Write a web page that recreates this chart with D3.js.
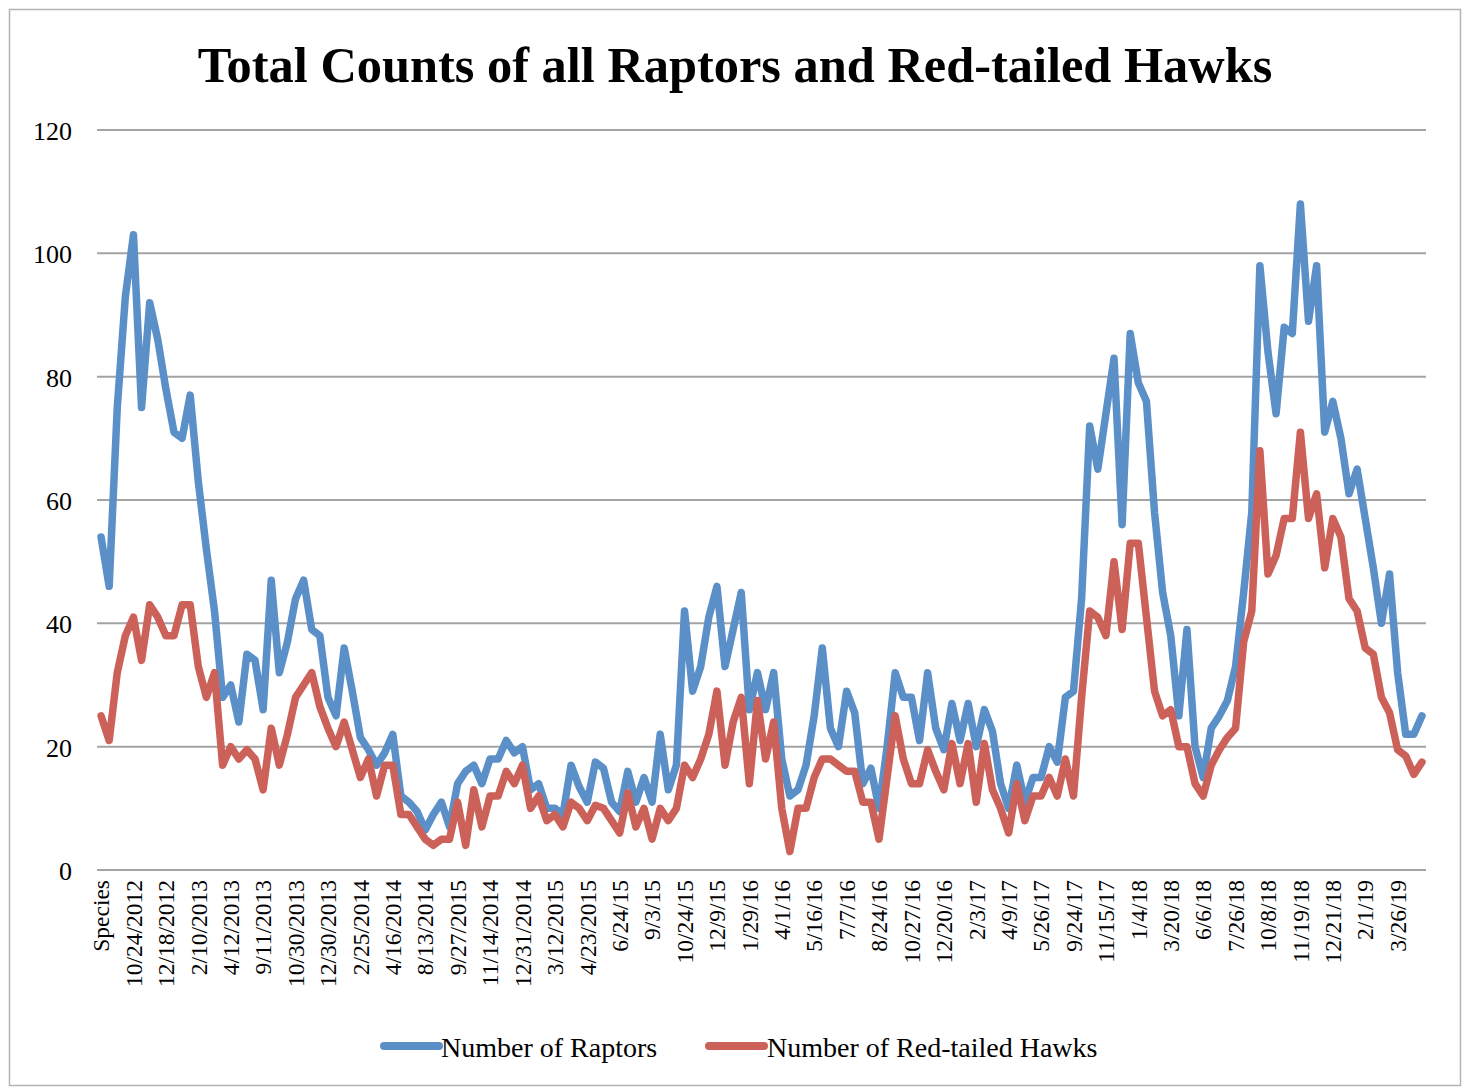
<!DOCTYPE html>
<html>
<head>
<meta charset="utf-8">
<script src="https://cdn.jsdelivr.net/npm/d3@7"></script>
<style>
  html, body { margin: 0; padding: 0; background: #fff; }
  svg { display: block; }
</style>
</head>
<body>
<svg id="chart" width="1467" height="1089"></svg>
<script>
// Survey counts, one entry per count date (164 dates).
const raptors = [
  54, 46, 75, 93, 103, 75, 92, 86, 78, 71, 70, 77, 63, 52, 42, 28, 30, 24, 35, 34,
  26, 47, 32, 37, 44, 47, 39, 38, 28, 25, 36, 29, 21.5, 19.5, 17, 19, 22, 12, 11, 9.5,
  6.5, 9, 11, 7, 14, 16, 17, 14, 18, 18, 21, 19, 20, 13, 14, 10, 10, 9, 17, 13.5,
  11, 17.5, 16.5, 11, 9.5, 16, 11, 15, 11, 22, 13, 17, 42, 29, 33, 41, 46, 33, 39, 45,
  26, 32, 26, 32, 18, 12, 13, 17, 25, 36, 23, 20, 29, 25.5, 14, 16.5, 10, 20, 32, 28,
  28, 21, 32, 23, 19.5, 27, 21, 27, 20, 26, 22.5, 14, 10, 17, 11, 15, 15, 20, 17.5, 28,
  29, 44, 72, 65, 74, 83, 56, 87, 79, 76, 58, 45, 38, 25, 39, 20, 15, 23, 25, 27.5,
  33, 45, 58, 98, 84, 74, 88, 87, 108, 89, 98, 71, 76, 70, 61, 65, 57, 49, 40, 48,
  32, 22, 22, 25
];

const redTailedHawks = [
  25, 21, 32, 38, 41, 34, 43, 41, 38, 38, 43, 43, 33, 28, 32, 17, 20, 18, 19.5, 18,
  13, 23, 17, 22, 28, 30, 32, 26.5, 23, 20, 24, 19.5, 15, 18, 12, 17, 17, 9, 9, 7,
  5, 4, 5, 5, 11, 4, 13, 7, 12, 12, 16, 14, 17, 10, 12, 8, 9, 7, 11, 10,
  8, 10.5, 10, 8, 6, 12.5, 7, 10, 5, 10, 8, 10, 17, 15, 18, 22, 29, 17, 24, 28,
  14, 27.5, 18, 24, 10, 3, 10, 10, 15, 18, 18, 17, 16, 16, 11, 11, 5, 15, 25, 18,
  14, 14, 19.5, 16, 13, 20.5, 14, 20.5, 11, 20.5, 13, 10, 6, 14, 8, 12, 12, 15, 12, 18,
  12, 28, 42, 41, 38, 50, 39, 53, 53, 41, 29, 25, 26, 20, 20, 14, 12, 17, 19.5, 21.5,
  23, 37, 42, 68, 48, 51, 57, 57, 71, 57, 61, 49, 57, 54, 44, 42, 36, 35, 28, 25.5,
  19.5, 18.5, 15.5, 17.5
];

// Category labels shown on the axis: every fourth count date.
const tickLabels = [
  "Species", "10/24/2012", "12/18/2012", "2/10/2013", "4/12/2013", "9/11/2013",
  "10/30/2013", "12/30/2013", "2/25/2014", "4/16/2014", "8/13/2014", "9/27/2015",
  "11/14/2014", "12/31/2014", "3/12/2015", "4/23/2015", "6/24/15", "9/3/15",
  "10/24/15", "12/9/15", "1/29/16", "4/1/16", "5/16/16", "7/7/16", "8/24/16",
  "10/27/16", "12/20/16", "2/3/17", "4/9/17", "5/26/17", "9/24/17", "11/15/17",
  "1/4/18", "3/20/18", "6/6/18", "7/26/18", "10/8/18", "11/19/18", "12/21/18",
  "2/1/19", "3/26/19"
];
const labelEvery = 4;

const yTicks = [0, 20, 40, 60, 80, 100, 120];

const seriesNames = ["Number of Raptors", "Number of Red-tailed Hawks"];
const seriesColors = ["#5b8fc8", "#cc6159"];

const titleText = "Total Counts of all Raptors and Red-tailed Hawks";

// ---------------------------------------------------------------------------
const W = 1467, H = 1089;
const plot = { left: 97, right: 1426, top: 130, bottom: 870 };
const serif = "'Liberation Serif', 'DejaVu Serif', serif";

const svg = d3.select("#chart");

svg.append("rect")
  .attr("x", 0).attr("y", 0).attr("width", W).attr("height", H)
  .attr("fill", "#fff");

// chart frame
svg.append("rect")
  .attr("x", 9.5).attr("y", 9.5)
  .attr("width", 1451).attr("height", 1076)
  .attr("fill", "none")
  .attr("stroke", "#b3b3b3")
  .attr("stroke-width", 1.5);

const idx = d3.range(raptors.length);

const x = d3.scalePoint()
  .domain(idx)
  .range([plot.left, plot.right])
  .padding(0.5);

const y = d3.scaleLinear()
  .domain([0, 120])
  .range([plot.bottom, plot.top]);

// horizontal gridlines
svg.append("g")
  .selectAll("line")
  .data(yTicks)
  .join("line")
  .attr("x1", plot.left).attr("x2", plot.right)
  .attr("y1", d => y(d)).attr("y2", d => y(d))
  .attr("stroke", "#a3a3a3")
  .attr("stroke-width", 2);

// y axis labels
const yAxis = d3.axisLeft(y).tickValues(yTicks).tickSize(0).tickPadding(0);
const gy = svg.append("g")
  .attr("transform", `translate(${plot.left - 25},0)`)
  .call(yAxis);
gy.select(".domain").remove();
gy.selectAll("text")
  .attr("font-family", serif)
  .attr("font-size", 26)
  .attr("fill", "#000")
  .attr("dy", "0.36em");

// x axis: category labels, rotated
const xAxis = d3.axisBottom(x)
  .tickValues(idx.filter(i => i % labelEvery === 0))
  .tickFormat(i => tickLabels[i / labelEvery])
  .tickSize(0);
const gx = svg.append("g")
  .attr("transform", `translate(0,${plot.bottom})`)
  .call(xAxis);
gx.select(".domain").remove();
gx.selectAll("text")
  .attr("font-family", serif)
  .attr("font-size", 23.5)
  .attr("fill", "#000")
  .attr("text-anchor", "end")
  .attr("transform", "rotate(-90)")
  .attr("x", -10)
  .attr("y", 0)
  .attr("dy", "0.33em");

// series lines
const line = d3.line()
  .x((d, i) => x(i))
  .y(d => y(d));

[raptors, redTailedHawks].forEach((vals, k) => {
  svg.append("path")
    .datum(vals)
    .attr("d", line)
    .attr("fill", "none")
    .attr("stroke", seriesColors[k])
    .attr("stroke-width", 7.5)
    .attr("stroke-linejoin", "round")
    .attr("stroke-linecap", "round");
});

// title, sized to its width
const title = svg.append("text")
  .attr("x", 735).attr("y", 82)
  .attr("text-anchor", "middle")
  .attr("font-family", serif)
  .attr("font-weight", "bold")
  .attr("font-size", 48)
  .attr("fill", "#000")
  .text(titleText);
const tw = title.node().getComputedTextLength();
title.attr("font-size", 48 * 1075 / tw);

// legend
const legendItems = [
  { x0: 384, x1: 439, tx: 441 },
  { x0: 709, x1: 764, tx: 767 }
];
const lg = svg.append("g");
legendItems.forEach((it, k) => {
  lg.append("line")
    .attr("x1", it.x0).attr("x2", it.x1)
    .attr("y1", 1046).attr("y2", 1046)
    .attr("stroke", seriesColors[k])
    .attr("stroke-width", 8)
    .attr("stroke-linecap", "round");
  lg.append("text")
    .attr("x", it.tx).attr("y", 1057)
    .attr("font-family", serif)
    .attr("font-size", 28)
    .attr("fill", "#000")
    .text(seriesNames[k]);
});
</script>
</body>
</html>
